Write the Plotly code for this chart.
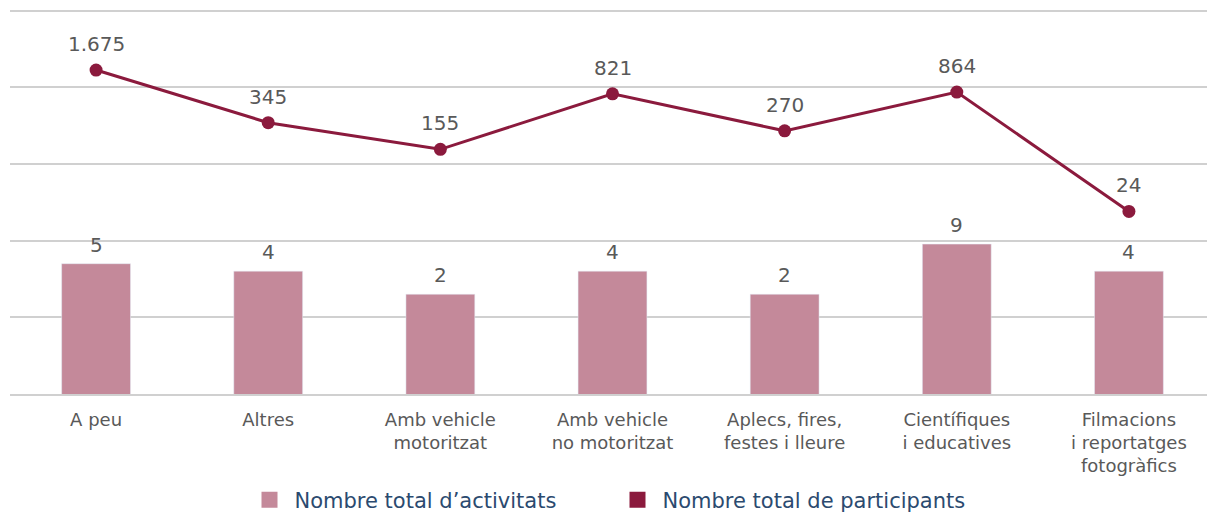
import math
import plotly.graph_objects as go

categories = [
    "A peu",
    "Altres",
    "Amb vehicle<br>motoritzat",
    "Amb vehicle<br>no motoritzat",
    "Aplecs, fires,<br>festes i lleure",
    "Científiques<br>i educatives",
    "Filmacions<br>i reportatges<br>fotogràfics",
]
activitats = [5, 4, 2, 4, 2, 9, 4]
participants = [1675, 345, 155, 821, 270, 864, 24]

bar_color = "#C4899A"
line_color = "#8B1A3D"
label_color = "#595959"
legend_color = "#2B4A6F"
grid_color = "#D0D0D0"
font_family = "DejaVu Sans, Verdana, sans-serif"


def fmt(v):
    return f"{v:,}".replace(",", ".")


fig = go.Figure()
fig.add_trace(go.Bar(
    x=categories, y=activitats, name="Nombre total d’activitats",
    marker_color=bar_color, width=0.4, showlegend=False,
))
fig.add_trace(go.Scatter(
    x=categories, y=participants, name="Nombre total de participants",
    mode="lines+markers",
    line=dict(color=line_color, width=3),
    marker=dict(size=13, color=line_color),
    showlegend=False, cliponaxis=False,
))
# legend entries drawn as square swatches, like the original
for name, col in [("Nombre total d’activitats", bar_color),
                  ("Nombre total de participants", line_color)]:
    fig.add_trace(go.Scatter(
        x=[None], y=[None], name=name, mode="markers",
        marker=dict(symbol="square", size=16, color=col),
        showlegend=True,
    ))

annotations = []
for c, v in zip(categories, activitats):
    annotations.append(dict(
        x=c, y=math.log10(v), text=fmt(v), showarrow=False,
        yanchor="middle", yshift=19,
        font=dict(size=20, color=label_color, family=font_family),
    ))
for c, v in zip(categories, participants):
    annotations.append(dict(
        x=c, y=math.log10(v), text=fmt(v), showarrow=False,
        yanchor="middle", yshift=26,
        font=dict(size=20, color=label_color, family=font_family),
    ))

fig.update_layout(
    width=1207, height=507,
    margin=dict(l=2, r=0, t=0, b=121),
    plot_bgcolor="white", paper_bgcolor="white",
    font=dict(family=font_family, color=label_color, size=18),
    showlegend=True,
    annotations=annotations,
    legend=dict(
        orientation="h", x=0.5, xanchor="center",
        yref="container", y=0.0296, yanchor="middle",
        font=dict(size=21, color=legend_color, family=font_family),
        itemwidth=40, traceorder="normal", entrywidth=313,
    ),
)
fig.update_yaxes(
    type="log", range=[-1, 4.033], dtick=1,
    showticklabels=False, showgrid=True, gridcolor=grid_color, gridwidth=2,
    zeroline=False, showline=False,
)
fig.update_xaxes(
    showline=True, linecolor=grid_color, linewidth=2,
    tickfont=dict(size=18, color=label_color, family=font_family),
    ticks="", showgrid=False, ticklabelstandoff=8,
)

fig.write_html("out.html")
